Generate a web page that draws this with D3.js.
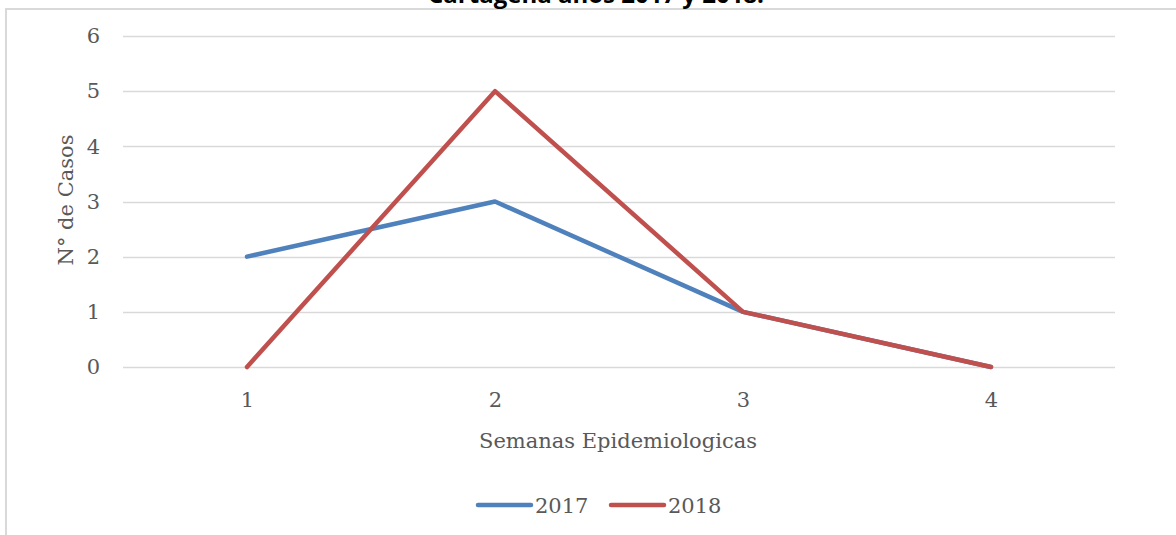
<!DOCTYPE html>
<html><head><meta charset="utf-8">
<script src="https://cdn.jsdelivr.net/npm/d3@7"></script>
<style>body{margin:0;background:#fff;} svg{display:block;}</style>
</head><body>
<svg id="chart" width="1176" height="535"></svg>
<script>
const categories = ["1", "2", "3", "4"];
const values2017 = [2, 3, 1, 0];
const values2018 = [0, 5, 1, 0];
const seriesNames = ["2017", "2018"];
const yTicks = [0, 1, 2, 3, 4, 5, 6];
const titleText = "Cartagena años 2017 y 2018.";
const xTitle = "Semanas Epidemiologicas";
const yTitle = "N° de Casos";

const colors = ["#4f81bd", "#c0504d"];
const series = [values2017, values2018];
const svg = d3.select("#chart");
const serif = "'DejaVu Serif', serif";
const textColor = "#595959";
const fs = 21;

// frame
svg.append("path").attr("d", "M6,540 L6,9 L1180,9").attr("fill", "none")
  .attr("stroke", "#d9d9d9").attr("stroke-width", 2);

// title (cut off at the top, as in the reference)
svg.append("text").attr("x", 596).attr("y", 3).attr("text-anchor", "middle")
  .attr("font-family", "'Open Sans', sans-serif").attr("font-weight", "bold")
  .attr("font-size", 24).attr("fill", "#000").text(titleText);

const x = d3.scalePoint().domain(categories).range([123, 1115]).padding(0.5);
const y = d3.scaleLinear().domain([0, 6]).range([367, 36]);

// gridlines
svg.append("g").selectAll("line").data(yTicks).join("line")
  .attr("x1", 123).attr("x2", 1115)
  .attr("y1", d => Math.round(y(d)) + 0.5).attr("y2", d => Math.round(y(d)) + 0.5)
  .attr("stroke", "#d9d9d9").attr("stroke-width", 1.3);

// y axis labels
const yAxis = d3.axisLeft(y).tickValues(yTicks).tickSize(0).tickPadding(0).tickFormat(d3.format("d"));
const gy = svg.append("g").attr("transform", "translate(100,0)").call(yAxis);
gy.select(".domain").remove();
gy.selectAll("text").attr("font-family", serif).attr("font-size", fs).attr("fill", textColor);

// x axis labels
const xAxis = d3.axisBottom(x).tickSize(0).tickPadding(0);
const gx = svg.append("g").attr("transform", "translate(0,392)").call(xAxis);
gx.select(".domain").remove();
gx.selectAll("text").attr("font-family", serif).attr("font-size", fs).attr("fill", textColor);

// axis titles
svg.append("text").attr("x", 618).attr("y", 448).attr("text-anchor", "middle")
  .attr("font-family", serif).attr("font-size", fs).attr("fill", textColor).text(xTitle);
svg.append("text").attr("transform", "translate(73,200) rotate(-90)").attr("text-anchor", "middle")
  .attr("font-family", serif).attr("font-size", fs).attr("fill", textColor).text(yTitle);

// lines
const line = d3.line().x((d, i) => x(categories[i])).y(d => y(d));
svg.append("g").selectAll("path").data(series).join("path")
  .attr("d", d => line(d)).attr("fill", "none")
  .attr("stroke", (d, i) => colors[i]).attr("stroke-width", 4.5)
  .attr("stroke-linecap", "round").attr("stroke-linejoin", "round");

// legend
const legendX = [478, 611];
const lg = svg.append("g").selectAll("g").data(seriesNames).join("g")
  .attr("transform", (d, i) => `translate(${legendX[i]},505)`);
lg.append("line").attr("x1", 0).attr("x2", 53).attr("y1", 0).attr("y2", 0)
  .attr("stroke", (d, i) => colors[i]).attr("stroke-width", 4.5).attr("stroke-linecap", "round");
lg.append("text").attr("x", 57).attr("y", 8).attr("font-family", serif).attr("font-size", fs)
  .attr("fill", textColor).text(d => d);
</script>
</body></html>
